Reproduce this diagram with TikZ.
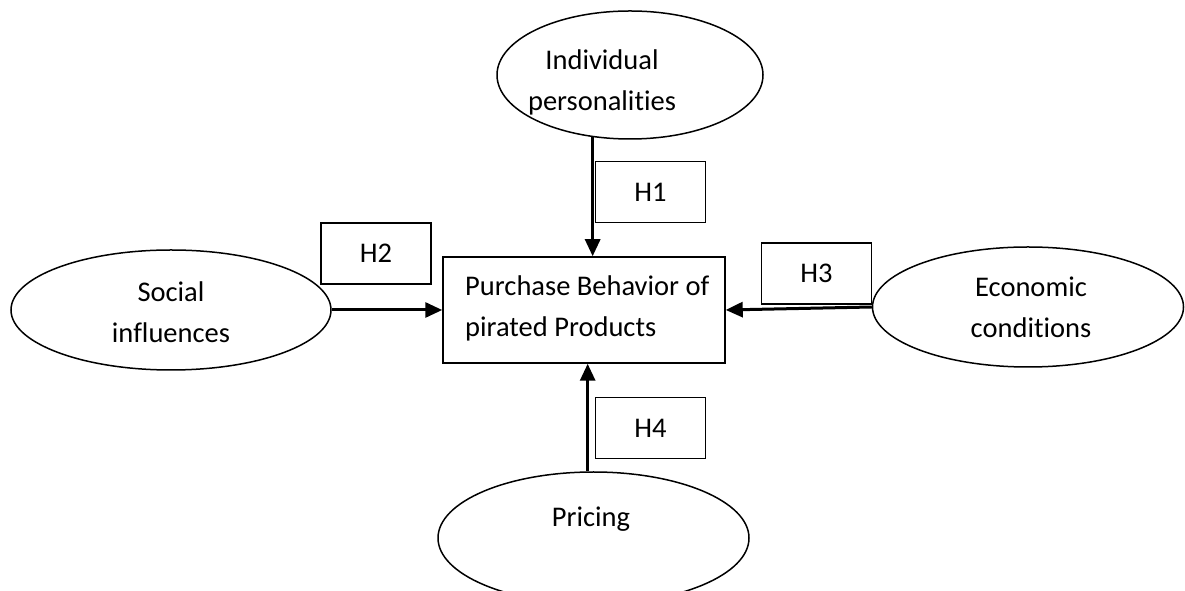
\documentclass[tikz,border=0pt]{standalone}
\usepackage{fontspec}
\setmainfont{Carlito}[Ligatures=NoCommon]
\usetikzlibrary{shapes.geometric,arrows.meta}
\tikzset{
  oval/.style={draw, ellipse, line width=1.5pt, inner sep=0pt},
  mainbox/.style={draw, rectangle, line width=1.5pt, inner sep=0pt, minimum width=282pt, minimum height=106pt},
  hbox/.style={draw, rectangle, line width=1.5pt, inner sep=0pt, minimum width=110pt, minimum height=61pt, font=\fontsize{28.5}{41}\selectfont},
  lbl/.style={inner sep=0pt, font=\fontsize{28.5}{41}\selectfont},
  arr/.style={line width=3pt, -{Triangle[length=17pt,width=15pt]}}
}
\newcommand{\twolines}[3]{\begin{tabular}[t]{@{}#1@{}}#2\\#3\end{tabular}}
\begin{document}
\begin{tikzpicture}[x=1pt,y=1pt]
\useasboundingbox (0,0) rectangle (1185,591);
% ovals
\node[oval, minimum width=266pt, minimum height=128pt] (ind) at (630,516) {};
\node[oval, minimum width=320pt, minimum height=120pt] (soc) at (171,281) {};
\node[oval, minimum width=311pt, minimum height=120pt] (eco) at (1028,284) {};
\node[oval, minimum width=311pt, minimum height=132pt] (pri) at (593.5,53) {};
% central box
\node[mainbox] (box) at (584,281) {};
% labels
\node[lbl, anchor=base] (indt) at (602,521) {\twolines{c}{Individual}{personalities}};
\node[lbl, anchor=base] (soct) at (171,289) {\twolines{c}{Social}{influences}};
\node[lbl, anchor=base] (ecot) at (1031,294) {\twolines{c}{Economic}{conditions}};
\node[lbl, anchor=base] (prit) at (591,64) {Pricing};
\node[lbl, anchor=base west] (boxt) at (465,295) {\twolines{l}{Purchase Behavior of}{pirated Products}};
% hypothesis boxes
\node[hbox] (h1) at (650.5,399) {H1};
\node[hbox] (h2) at (376,337.5) {H2};
\node[hbox] (h3) at (816.5,317.5) {H3};
\node[hbox] (h4) at (650.5,163) {H4};
% arrows
\draw[arr] (ind.239) -- (ind.239 |- box.north);
\draw[arr] (soc.east) -- (box.west);
\draw[arr] (eco.west) -- (box.east);
\draw[arr] (pri.95) -- (pri.95 |- box.south);
\end{tikzpicture}
\end{document}
